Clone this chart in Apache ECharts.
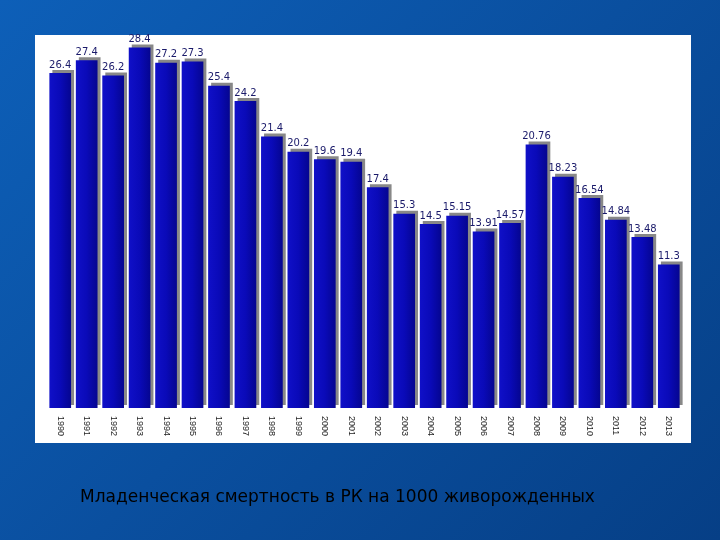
<!DOCTYPE html><html><head><meta charset="utf-8">
<script src="https://cdn.jsdelivr.net/npm/echarts@6/dist/echarts.min.js"></script>
<style>html,body{margin:0;padding:0;}
#bg{position:absolute;left:0;top:0;width:720px;height:540px;background:linear-gradient(135deg,#0d5fb8 0%,#0a4f9f 50%,#063f86 100%);}
#panel{position:absolute;left:35px;top:35px;width:656px;height:408px;background:#fff;}
#c{position:absolute;left:0;top:0;width:720px;height:540px;}
</style></head><body>
<div id="bg"></div><div id="panel"></div><div id="c"></div>
<script>
const years=['1990','1991','1992','1993','1994','1995','1996','1997','1998','1999','2000','2001','2002','2003','2004','2005','2006','2007','2008','2009','2010','2011','2012','2013'];
const values=[26.4,27.4,26.2,28.4,27.2,27.3,25.4,24.2,21.4,20.2,19.6,19.4,17.4,15.3,14.5,15.15,13.91,14.57,20.76,18.23,16.54,14.84,13.48,11.3];
const labels=['26.4','27.4','26.2','28.4','27.2','27.3','25.4','24.2','21.4','20.2','19.6','19.4','17.4','15.3','14.5','15.15','13.91','14.57','20.76','18.23','16.54','14.84','13.48','11.3'];
const chart=echarts.init(document.getElementById('c'));
chart.setOption({
 animation:false,
 grid:{left:47,right:38,top:40,bottom:132},
 title:{text:'Младенческая смертность в РК на 1000 живорожденных',left:75,top:484,textStyle:{fontFamily:'DejaVu Sans',fontSize:17,fontWeight:'normal',color:'#000'}},
 xAxis:{type:'category',data:years,axisLine:{show:false},axisTick:{show:false},
  axisLabel:{rotate:-90,fontSize:9,color:'#222',margin:8,interval:0}},
 yAxis:{type:'value',min:0,max:29,show:false},
 series:[{type:'bar',data:values,barCategoryGap:'18%',
  itemStyle:{color:new echarts.graphic.LinearGradient(0,0,1,0,[{offset:0,color:'#1010c8'},{offset:0.5,color:'#0a0ab8'},{offset:1,color:'#050590'}]),
   shadowColor:'#888',shadowOffsetX:3,shadowOffsetY:-3,shadowBlur:0},
  label:{show:true,position:'top',distance:3,fontSize:10,color:'#1a1a6a',fontFamily:'DejaVu Sans',
   formatter:p=>labels[p.dataIndex]}}]
});
</script></body></html>
